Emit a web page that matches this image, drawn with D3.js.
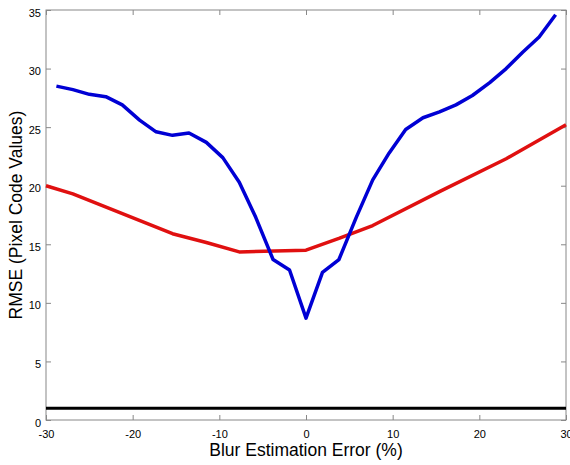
<!DOCTYPE html>
<html>
<head>
<meta charset="utf-8">
<script src="https://cdn.jsdelivr.net/npm/d3@7"></script>
<style>
  body { margin: 0; background: #fff; }
  svg { display: block; font-family: "Liberation Sans", Arial, sans-serif; }
</style>
</head>
<body>
<svg id="chart" width="570" height="465"></svg>
<script>
// blur estimation error (%) sample positions for the blue curve
var blurX = [-28.8, -26.9, -25.0, -23.1, -21.2, -19.2, -17.3, -15.4, -13.5, -11.5, -9.6, -7.7, -5.8, -3.8, -1.9,
             0, 1.9, 3.8, 5.8, 7.7, 9.6, 11.5, 13.5, 15.4, 17.3, 19.2, 21.2, 23.1, 25.0, 26.9, 28.8];
var blueRmse = [28.5, 28.2, 27.8, 27.6, 26.9, 25.6, 24.6, 24.3, 24.5, 23.7, 22.4, 20.3, 17.3, 13.7, 12.8,
                8.7, 12.6, 13.7, 17.3, 20.5, 22.8, 24.8, 25.8, 26.3, 26.9, 27.7, 28.8, 30.0, 31.4, 32.7, 34.6];

var redX = [-30, -26.9, -15.4, -11.5, -7.7, 0, 3.8, 7.7, 15.4, 23.1, 30];
var redRmse = [20.0, 19.3, 15.9, 15.15, 14.35, 14.5, 15.5, 16.6, 19.5, 22.3, 25.2];

var blackX = [-30, 30];
var blackRmse = [1, 1];

var xTicks = [-30, -20, -10, 0, 10, 20, 30];
var yTicks = [0, 5, 10, 15, 20, 25, 30, 35];

var chart = {};
chart.left = 46;
chart.right = 566;
chart.top = 10;
chart.bottom = 420;

var svg = d3.select("#chart");

var x = d3.scaleLinear().domain([-30, 30]).range([chart.left, chart.right]);
var y = d3.scaleLinear().domain([0, 35]).range([chart.bottom, chart.top]);

var line = d3.line().x(function(d){ return x(d[0]); }).y(function(d){ return y(d[1]); });

// axes, MATLAB style: ticks inside, box round the plot
var bottomAxis = svg.append("g")
	.attr("transform", "translate(0," + chart.bottom + ")")
	.call(d3.axisBottom(x).tickValues(xTicks).tickSizeInner(-5).tickSizeOuter(0).tickPadding(10)
		.tickFormat(function(d){ return String(d); }));
var leftAxis = svg.append("g")
	.attr("transform", "translate(" + chart.left + ",0)")
	.call(d3.axisLeft(y).tickValues(yTicks).tickSizeInner(-5).tickSizeOuter(0).tickPadding(5)
		.tickFormat(function(d){ return String(d); }));
var topAxis = svg.append("g")
	.attr("transform", "translate(0," + chart.top + ")")
	.call(d3.axisTop(x).tickValues(xTicks).tickSizeInner(-5).tickSizeOuter(0).tickFormat(""));
var rightAxis = svg.append("g")
	.attr("transform", "translate(" + chart.right + ",0)")
	.call(d3.axisRight(y).tickValues(yTicks).tickSizeInner(-5).tickSizeOuter(0).tickFormat(""));

svg.selectAll(".domain").remove();
svg.selectAll(".tick line").attr("stroke", "#888");
svg.selectAll(".tick text").attr("font-size", 11).attr("fill", "#000")
	.attr("font-family", "'Liberation Sans', Arial, sans-serif");
leftAxis.selectAll(".tick text").attr("dy", "0.55em");

svg.append("rect")
	.attr("x", chart.left)
	.attr("y", chart.top)
	.attr("width", chart.right - chart.left)
	.attr("height", chart.bottom - chart.top)
	.attr("fill", "none")
	.attr("stroke", "#888")
	.attr("stroke-width", 1);

svg.append("path")
	.datum(d3.zip(blackX, blackRmse))
	.attr("d", line)
	.attr("fill", "none")
	.attr("stroke", "#000")
	.attr("stroke-width", 3);

svg.append("path")
	.datum(d3.zip(redX, redRmse))
	.attr("d", line)
	.attr("fill", "none")
	.attr("stroke", "#e01010")
	.attr("stroke-width", 3.5)
	.attr("stroke-linejoin", "round");

svg.append("path")
	.datum(d3.zip(blurX, blueRmse))
	.attr("d", line)
	.attr("fill", "none")
	.attr("stroke", "#0000d4")
	.attr("stroke-width", 3.5)
	.attr("stroke-linejoin", "round");

svg.append("text")
	.attr("x", (chart.left + chart.right) / 2)
	.attr("y", 456)
	.attr("text-anchor", "middle")
	.attr("font-size", 17.5)
	.text("Blur Estimation Error (%)");

svg.append("text")
	.attr("transform", "translate(22," + ((chart.top + chart.bottom) / 2) + ") rotate(-90)")
	.attr("text-anchor", "middle")
	.attr("font-size", 17.5)
	.text("RMSE (Pixel Code Values)");
</script>
</body>
</html>
